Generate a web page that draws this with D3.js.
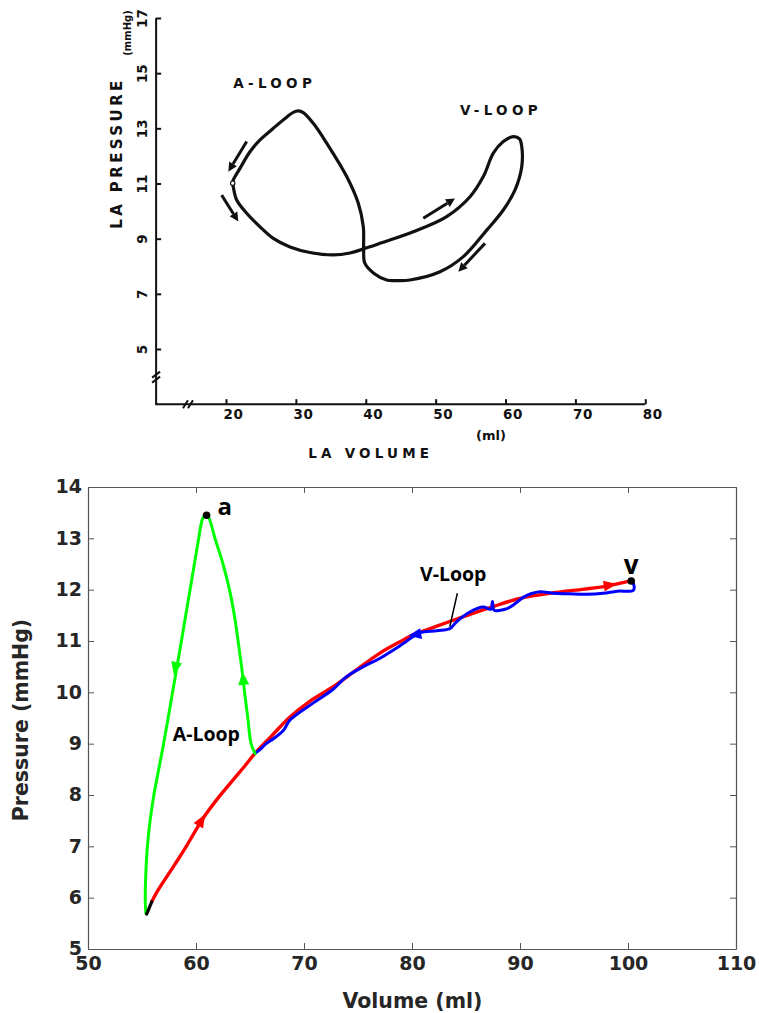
<!DOCTYPE html>
<html>
<head>
<meta charset="utf-8">
<script src="https://cdn.jsdelivr.net/npm/d3@7"></script>
<style>
  html, body { margin: 0; padding: 0; background: #fff; }
  svg { display: block; }
</style>
</head>
<body>
<svg id="fig" width="759" height="1013"></svg>
<script>
// ---------- Panel 1: traced LA pressure–volume loop (A-loop and V-loop) ----------
const laLoopVol  = [30.35,29.63,28.44,26.77,24.87,23.43,22.0,21.04,20.96,21.04,21.53,22.96,24.87,26.77,29.16,32.02,35.31,37.74,39.7,42.04,46.8,51.58,54.92,56.82,58.25,59.68,61.11,62.0,62.32,62.32,61.36,59.68,57.31,53.96,50.62,46.33,44.37,43.0,41.18,39.86,39.7,39.65,38.93,37.27,34.41,32.49,31.06];
const laLoopPres = [13.63,13.58,13.36,13.0,12.58,12.15,11.55,11.13,11.01,10.88,10.40,9.92,9.43,9.01,8.70,8.50,8.41,8.48,8.63,8.83,9.25,9.80,10.52,11.25,12.10,12.52,12.70,12.62,12.34,11.61,10.77,10.04,9.31,8.35,7.80,7.50,7.48,7.50,7.74,8.11,8.66,9.43,10.28,11.25,12.46,13.18,13.57];
const laCusp = [20.96, 11.01];
// direction arrows: tail -> tip
const laArrowTailVol  = [22.96, 19.38, 48.23, 57.06];
const laArrowTailPres = [12.52, 10.58, 9.74, 8.83];
const laArrowTipVol   = [20.33, 21.76, 52.77, 53.24];
const laArrowTipPres  = [11.43, 9.62, 10.46, 7.80];
const laVolTicks  = [20, 30, 40, 50, 60, 70, 80];
const laPresTicks = [5, 7, 9, 11, 13, 15, 17];
const laLabels = ["A-LOOP", "V-LOOP"];
const laLabelVol  = [21.04, 53.49];
const laLabelPres = [14.46, 13.48];

// ---------- Panel 2: model PV loop ----------
const aLoopVol  = [65.46,65.1,64.8,64.5,64.22,63.9,63.55,63.1,62.5,61.76,61.5,61.25,60.95,60.65,60.42,60.25,59.85,59.45,59.05,58.65,58.24,57.83,57.42,57.0,56.55,56.1,55.75,55.5,55.36,55.3,55.35];
const aLoopPres = [8.81,9.0,9.5,10.0,10.5,11.0,11.5,12.0,12.5,13.0,13.2,13.37,13.46,13.4,13.22,13.0,12.5,12.0,11.5,11.0,10.5,10.0,9.5,9.0,8.5,8.0,7.5,7.0,6.5,6.0,5.7];
const linkVol  = [55.43, 55.9];
const linkPres = [5.68, 5.92];
const fillVol  = [55.9,56.5,57.3,58.2,59.1,60.0,60.83,62.0,63.5,64.5,65.46,67.0,68.7,70.5,72.7,74.6,77.0,79.2,80.1,81.8,83.5,85.5,87.5,90.0,93.1,96.0,98.3,100.2];
const fillPres = [5.92,6.15,6.41,6.7,7.0,7.32,7.6,7.93,8.31,8.56,8.81,9.15,9.52,9.82,10.11,10.4,10.76,11.02,11.12,11.25,11.38,11.53,11.67,11.83,11.94,12.01,12.08,12.17];
const emptyVol  = [100.3,100.5,100.5,99.0,97.7,96.2,94.5,93.1,91.85,91.0,90.3,89.5,88.8,88.2,87.6,87.45,87.3,86.6,85.4,84.1,83.5,82.3,80.7,79.2,77.0,75.5,73.9,72.7,70.9,68.7,68.1,67.2,66.5,66.0,65.46];
const emptyPres = [12.17,12.12,11.99,11.97,11.93,11.91,11.92,11.93,11.96,11.92,11.85,11.72,11.63,11.6,11.6,11.77,11.62,11.66,11.57,11.37,11.24,11.2,11.16,10.95,10.66,10.5,10.3,10.06,9.8,9.46,9.26,9.1,9.0,8.9,8.81];
// arrowheads on the curves: series, tail point, tip point
const arrowSeries   = ["aLoop", "aLoop", "fill", "fill", "empty"];
const arrowTailVol  = [58.65, 64.5, 59.1, 96.0, 82.3];
const arrowTailPres = [11.0, 10.0, 7.0, 12.01, 11.2];
const arrowTipVol   = [57.95, 64.3, 60.83, 98.95, 79.66];
const arrowTipPres  = [10.34, 10.4, 7.62, 12.11, 11.10];
// labelled points
const pointNames = ["a", "v"];
const pointVol   = [60.98, 100.3];
const pointPres  = [13.45, 12.17];
const pointLabelVol  = [62.0, 100.3];
const pointLabelPres = [13.45, 12.3];
const loopNames = ["A-Loop", "V-Loop"];
const loopLabelVol  = [57.84, 80.74];
const loopLabelPres = [9.05, 12.17];
const leaderVol  = [84.2, 83.5];
const leaderPres = [11.93, 11.28];
const volTicks  = [50, 60, 70, 80, 90, 100, 110];
const presTicks = [5, 6, 7, 8, 9, 10, 11, 12, 13, 14];

const svg = d3.select("#fig");
const zip = (xs, ys) => xs.map((x, i) => [x, ys[i]]);

// ================= Panel 1 =================
const scanFont = "'DejaVu Sans', sans-serif";
const p1 = svg.append("g");
const xT = d3.scaleLinear().domain([20, 80]).range([226, 645.3]);
const yT = d3.scaleLinear().domain([5, 17]).range([349, 18]);
const volAxisStart = 10, presAxisStart = 3;

// axis frame
p1.append("path")
  .attr("d", `M${xT(volAxisStart)},${yT(17)}V${yT(presAxisStart)}H${xT(80)}`)
  .attr("fill", "none").attr("stroke", "#111").attr("stroke-width", 2);

const xAxisT = p1.append("g")
  .attr("transform", `translate(0,${yT(presAxisStart)})`)
  .call(d3.axisBottom(xT).tickValues(laVolTicks).tickSize(-5).tickSizeOuter(0));
xAxisT.select(".domain").remove();
xAxisT.selectAll("line").attr("stroke", "#111").attr("stroke-width", 2);
xAxisT.selectAll("text")
  .attr("text-anchor", "start").attr("x", -3).attr("y", 15.3).attr("dy", null)
  .attr("font-family", scanFont).attr("font-weight", "bold").attr("font-size", 13.5)
  .attr("letter-spacing", 0.6).attr("fill", "#111");

const yAxisT = p1.append("g")
  .attr("transform", `translate(${xT(volAxisStart)},0)`)
  .call(d3.axisLeft(yT).tickValues(laPresTicks).tickSize(-5).tickSizeOuter(0));
yAxisT.select(".domain").remove();
yAxisT.selectAll("line").attr("stroke", "#111").attr("stroke-width", 2);
yAxisT.selectAll("text")
  .attr("x", null).attr("dy", null)
  .attr("text-anchor", "middle")
  .attr("transform", "translate(-8.7,0) rotate(-90)")
  .attr("font-family", scanFont).attr("font-weight", "bold").attr("font-size", 13.5)
  .attr("fill", "#111");

// axis breaks
const bx = xT(14.7), by = yT(presAxisStart);
p1.append("path")
  .attr("d", `M${bx-6},${by+4}L${bx-1},${by-4}M${bx-1},${by+4}L${bx+4},${by-4}`)
  .attr("stroke", "#111").attr("stroke-width", 2).attr("fill", "none");
const ax = xT(volAxisStart), ay = yT(4);
p1.append("path")
  .attr("d", `M${ax-4},${ay+1}L${ax+4},${ay-5}M${ax-4},${ay+6}L${ax+4},${ay}`)
  .attr("stroke", "#111").attr("stroke-width", 2).attr("fill", "none");

// axis titles
p1.append("text")
  .attr("transform", "translate(121.5,153) rotate(-90)")
  .attr("text-anchor", "middle")
  .attr("font-family", scanFont).attr("font-weight", "bold").attr("font-size", 15)
  .attr("letter-spacing", 3.4).attr("fill", "#111")
  .text("LA PRESSURE");
p1.append("text")
  .attr("transform", "translate(131,33) rotate(-90)")
  .attr("text-anchor", "middle")
  .attr("font-family", scanFont).attr("font-weight", "bold").attr("font-size", 10)
  .attr("fill", "#111")
  .text("(mmHg)");
p1.append("text")
  .attr("x", 491).attr("y", 440).attr("text-anchor", "middle")
  .attr("font-family", scanFont).attr("font-weight", "bold").attr("font-size", 13)
  .attr("fill", "#111")
  .text("(ml)");
p1.append("text")
  .attr("x", 308.3).attr("y", 458.3)
  .attr("font-family", scanFont).attr("font-weight", "bold").attr("font-size", 13.5)
  .attr("letter-spacing", 4.2).attr("fill", "#111")
  .text("LA  VOLUME");

// loop
const lineT = d3.line().x(d => xT(d[0])).y(d => yT(d[1])).curve(d3.curveCatmullRomClosed.alpha(0.5));
p1.append("path")
  .attr("d", lineT(zip(laLoopVol, laLoopPres)))
  .attr("fill", "none").attr("stroke", "#111").attr("stroke-width", 3.2)
  .attr("stroke-linejoin", "round");
p1.append("circle")
  .attr("cx", xT(laCusp[0])).attr("cy", yT(laCusp[1])).attr("r", 2.2)
  .attr("fill", "#fff").attr("stroke", "#111").attr("stroke-width", 1.2);

// direction arrows
laArrowTipVol.forEach((v, i) => {
  const x0 = xT(laArrowTailVol[i]), y0 = yT(laArrowTailPres[i]);
  const x1 = xT(v), y1 = yT(laArrowTipPres[i]);
  const ang = Math.atan2(y1 - y0, x1 - x0);
  const L = 9, W = 4.5;
  const bxx = x1 - L * Math.cos(ang), byy = y1 - L * Math.sin(ang);
  p1.append("line")
    .attr("x1", x0).attr("y1", y0).attr("x2", bxx).attr("y2", byy)
    .attr("stroke", "#111").attr("stroke-width", 3);
  p1.append("path")
    .attr("d", `M${x1},${y1}L${bxx + W*Math.sin(ang)},${byy - W*Math.cos(ang)}L${bxx - W*Math.sin(ang)},${byy + W*Math.cos(ang)}Z`)
    .attr("fill", "#111");
});

laLabels.forEach((t, i) => {
  p1.append("text")
    .attr("x", xT(laLabelVol[i])).attr("y", yT(laLabelPres[i]))
    .attr("font-family", scanFont).attr("font-weight", "bold").attr("font-size", 13.5)
    .attr("letter-spacing", 4.3).attr("fill", "#111")
    .text(t);
});

// ================= Panel 2 =================
const p2 = svg.append("g");
const x = d3.scaleLinear().domain([50, 110]).range([88, 736]);
const y = d3.scaleLinear().domain([5, 14]).range([949, 487]);
const axisColor = "#555";
const tickFont = "'DejaVu Sans', sans-serif";

function styleAxis(g) {
  g.select(".domain").attr("stroke", axisColor).attr("stroke-width", 1.2);
  g.selectAll(".tick line").attr("stroke", axisColor).attr("stroke-width", 1);
  g.selectAll("text")
    .attr("font-family", tickFont).attr("font-weight", "bold").attr("font-size", 19)
    .attr("fill", "#262626");
}
p2.append("g").attr("transform", `translate(0,${y(5)})`)
  .call(d3.axisBottom(x).tickValues(volTicks).tickSize(-6).tickSizeOuter(0).tickPadding(8).tickFormat(d3.format("d")))
  .call(styleAxis);
p2.append("g").attr("transform", `translate(${x(50)},0)`)
  .call(d3.axisLeft(y).tickValues(presTicks).tickSize(-6).tickSizeOuter(0).tickPadding(6).tickFormat(d3.format("d")))
  .call(styleAxis)
  .call(g => g.selectAll("text").attr("dy", "0.3em"));
p2.append("g").attr("transform", `translate(0,${y(14)})`)
  .call(d3.axisTop(x).tickValues(volTicks).tickSize(-6).tickSizeOuter(0).tickFormat(""))
  .call(styleAxis);
p2.append("g").attr("transform", `translate(${x(110)},0)`)
  .call(d3.axisRight(y).tickValues(presTicks).tickSize(-6).tickSizeOuter(0).tickFormat(""))
  .call(styleAxis);

p2.append("text")
  .attr("x", (x(50) + x(110)) / 2 + 0.5).attr("y", 1007.7).attr("text-anchor", "middle")
  .attr("font-family", tickFont).attr("font-weight", "bold").attr("font-size", 20.5)
  .attr("fill", "#262626").text("Volume (ml)");
p2.append("text")
  .attr("transform", `translate(27.5,${(y(5) + y(14)) / 2 + 2}) rotate(-90)`).attr("text-anchor", "middle")
  .attr("font-family", tickFont).attr("font-weight", "bold").attr("font-size", 20.5)
  .attr("fill", "#262626").text("Pressure (mmHg)");

// curves
const line = d3.line().x(d => x(d[0])).y(d => y(d[1])).curve(d3.curveCatmullRom.alpha(0.5));
const seriesColor = { aLoop: "#00ff00", fill: "#ff0000", empty: "#0000ff", link: "#000000" };
const drawCurve = (vols, pres, key, w) =>
  p2.append("path")
    .attr("d", line(zip(vols, pres)))
    .attr("fill", "none").attr("stroke", seriesColor[key]).attr("stroke-width", w)
    .attr("stroke-linejoin", "round").attr("stroke-linecap", "round");

drawCurve(fillVol, fillPres, "fill", 3.4);
drawCurve(emptyVol, emptyPres, "empty", 3);
drawCurve(aLoopVol, aLoopPres, "aLoop", 3);
drawCurve(linkVol, linkPres, "link", 3.2);

// arrowheads
arrowSeries.forEach((s, i) => {
  const x0 = x(arrowTailVol[i]), y0 = y(arrowTailPres[i]);
  const x1 = x(arrowTipVol[i]), y1 = y(arrowTipPres[i]);
  const ang = Math.atan2(y1 - y0, x1 - x0);
  const L = 13, W = 5.5;
  const bxx = x1 - L * Math.cos(ang), byy = y1 - L * Math.sin(ang);
  p2.append("path")
    .attr("d", `M${x1},${y1}L${bxx + W*Math.sin(ang)},${byy - W*Math.cos(ang)}L${bxx - W*Math.sin(ang)},${byy + W*Math.cos(ang)}Z`)
    .attr("fill", seriesColor[s]);
});

// leader for V-Loop label
p2.append("line")
  .attr("x1", x(leaderVol[0])).attr("y1", y(leaderPres[0]))
  .attr("x2", x(leaderVol[1])).attr("y2", y(leaderPres[1]))
  .attr("stroke", "#000").attr("stroke-width", 1.5);

// labelled points
const annFont = "'Open Sans', sans-serif";
pointNames.forEach((n, i) => {
  p2.append("circle").attr("cx", x(pointVol[i])).attr("cy", y(pointPres[i])).attr("r", 3.8).attr("fill", "#000");
  p2.append("text")
    .attr("x", x(pointLabelVol[i])).attr("y", y(pointLabelPres[i]))
    .attr("text-anchor", i === 0 ? "start" : "middle")
    .attr("font-family", annFont).attr("font-weight", "bold").attr("font-size", i === 0 ? 24 : 26)
    .attr("fill", "#000").text(n);
});
loopNames.forEach((n, i) => {
  p2.append("text")
    .attr("x", x(loopLabelVol[i])).attr("y", y(loopLabelPres[i]))
    .attr("font-family", annFont).attr("font-weight", "bold").attr("font-size", 19.5)
    .attr("fill", "#000").text(n);
});
</script>
</body>
</html>
